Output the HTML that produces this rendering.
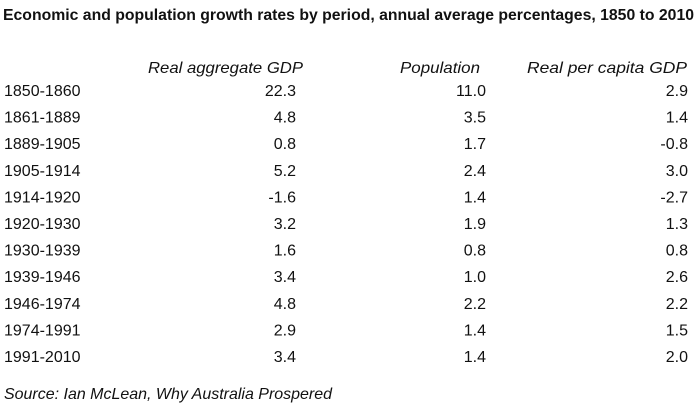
<!DOCTYPE html>
<html><head><meta charset="utf-8"><style>
html,body{margin:0;padding:0;background:#fff;}
svg{display:block;font-family:"Liberation Sans",sans-serif;fill:#111;}
</style></head><body>
<svg width="700" height="406" viewBox="0 0 700 406" xmlns="http://www.w3.org/2000/svg">
<text x="3" y="20" font-size="15.5" font-weight="bold" textLength="691" lengthAdjust="spacingAndGlyphs">Economic and population growth rates by period, annual average percentages, 1850 to 2010</text>
<g font-style="italic" font-size="16">
<text x="303" y="73" text-anchor="end" textLength="155" lengthAdjust="spacingAndGlyphs">Real aggregate GDP</text>
<text x="480" y="73" text-anchor="end" textLength="80" lengthAdjust="spacingAndGlyphs">Population</text>
<text x="687" y="73" text-anchor="end" textLength="160" lengthAdjust="spacingAndGlyphs">Real per capita GDP</text>
</g>
<g font-size="16">
<g transform="translate(0,96)"><text x="4">1850-1860</text><text x="296" text-anchor="end">22.3</text><text x="486" text-anchor="end">11.0</text><text x="688" text-anchor="end">2.9</text></g>
<g transform="translate(0,122.6)"><text x="4">1861-1889</text><text x="296" text-anchor="end">4.8</text><text x="486" text-anchor="end">3.5</text><text x="688" text-anchor="end">1.4</text></g>
<g transform="translate(0,149.2)"><text x="4">1889-1905</text><text x="296" text-anchor="end">0.8</text><text x="486" text-anchor="end">1.7</text><text x="688" text-anchor="end">-0.8</text></g>
<g transform="translate(0,175.8)"><text x="4">1905-1914</text><text x="296" text-anchor="end">5.2</text><text x="486" text-anchor="end">2.4</text><text x="688" text-anchor="end">3.0</text></g>
<g transform="translate(0,202.4)"><text x="4">1914-1920</text><text x="296" text-anchor="end">-1.6</text><text x="486" text-anchor="end">1.4</text><text x="688" text-anchor="end">-2.7</text></g>
<g transform="translate(0,229)"><text x="4">1920-1930</text><text x="296" text-anchor="end">3.2</text><text x="486" text-anchor="end">1.9</text><text x="688" text-anchor="end">1.3</text></g>
<g transform="translate(0,255.6)"><text x="4">1930-1939</text><text x="296" text-anchor="end">1.6</text><text x="486" text-anchor="end">0.8</text><text x="688" text-anchor="end">0.8</text></g>
<g transform="translate(0,282.2)"><text x="4">1939-1946</text><text x="296" text-anchor="end">3.4</text><text x="486" text-anchor="end">1.0</text><text x="688" text-anchor="end">2.6</text></g>
<g transform="translate(0,308.8)"><text x="4">1946-1974</text><text x="296" text-anchor="end">4.8</text><text x="486" text-anchor="end">2.2</text><text x="688" text-anchor="end">2.2</text></g>
<g transform="translate(0,335.4)"><text x="4">1974-1991</text><text x="296" text-anchor="end">2.9</text><text x="486" text-anchor="end">1.4</text><text x="688" text-anchor="end">1.5</text></g>
<g transform="translate(0,362)"><text x="4">1991-2010</text><text x="296" text-anchor="end">3.4</text><text x="486" text-anchor="end">1.4</text><text x="688" text-anchor="end">2.0</text></g>
</g>
<text x="4" y="399" font-size="16" font-style="italic" textLength="328" lengthAdjust="spacingAndGlyphs">Source: Ian McLean, Why Australia Prospered</text>
</svg>
</body></html>
